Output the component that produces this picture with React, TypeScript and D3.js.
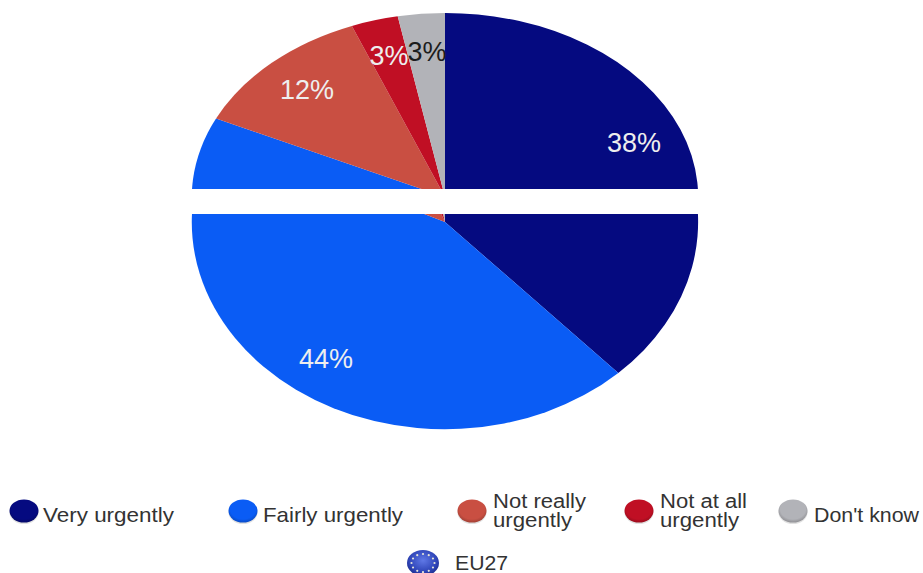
import React from "react";
import * as d3 from "d3";

const categories = ["Very urgently", "Fairly urgently", "Not really urgently", "Not at all urgently", "Don't know"];
const shares = [38, 44, 12, 3, 3];
const sliceColors = ["#050a80", "#0a5cf5", "#c94f42", "#c00f24", "#b2b3b8"];
const labelColors = ["#eeeeee", "#eeeeee", "#eeeeee", "#eeeeee", "#1c1c1c"];
const legendLines = [["Very urgently"], ["Fairly urgently"], ["Not really", "urgently"], ["Not at all", "urgently"], ["Don't know"]];
const regionLabel = "EU27";

const WIDTH = 923;
const HEIGHT = 573;
const CX = 445;
const RX = 253;
// The pie is split by a horizontal band, and the two parts have their own centre and radius.
const UPPER = { cy: 197, ry: 184, clipY: 0, clipH: 189 };
const LOWER = { cy: 222, ry: 207, clipY: 214, clipH: 359 };
const LEGEND_DOT_X = [24, 243, 472, 639, 793];
const LEGEND_TEXT_X = [43, 263, 493, 660, 814];
const LEGEND_TEXT_W = [[131], [140], [93, 79], [87, 79], [105]];
const LABEL_POS: [number, number][] = [[634, 143], [326, 359], [307, 90], [389, 56], [427, 52]];

const pie = d3.pie<number>().sort(null).value((d) => d);
const arc = d3.arc<d3.PieArcDatum<number>>().innerRadius(0).outerRadius(1);

// Twelve stars on a ring for the EU flag marker
const starRing = d3.range(12).map((i) => (i / 12) * 2 * Math.PI);

export default function App() {
  const slices = pie(shares);
  return (
    <svg
      width={WIDTH}
      height={HEIGHT}
      viewBox={`0 0 ${WIDTH} ${HEIGHT}`}
      style={{ position: "absolute", left: 0, top: 0, background: "#fff" }}
      fontFamily="'Liberation Sans', Arial, sans-serif"
    >
      <defs>
        {sliceColors.map((c, i) => (
          <radialGradient key={c} id={`dot${i}`} cx="50%" cy="42%" r="60%">
            <stop offset="0%" stopColor={c} />
            <stop offset="72%" stopColor={c} />
            <stop offset="100%" stopColor={d3.color(c)!.darker(0.7).formatHex()} />
          </radialGradient>
        ))}
        <radialGradient id="flag" cx="50%" cy="40%" r="62%">
          <stop offset="0%" stopColor="#5f78e6" />
          <stop offset="70%" stopColor="#2f45b8" />
          <stop offset="100%" stopColor="#1a2a86" />
        </radialGradient>
        {[UPPER, LOWER].map((p, i) => (
          <clipPath key={i} id={`part${i}`}>
            <rect x={0} y={p.clipY} width={WIDTH} height={p.clipH} />
          </clipPath>
        ))}
      </defs>

      {[UPPER, LOWER].map((p, k) => (
        <g key={k} clipPath={`url(#part${k})`}>
          <g transform={`translate(${CX},${p.cy}) scale(${RX},${p.ry})`}>
            {slices.map((s, i) => (
              <path key={categories[i]} d={arc(s) ?? ""} fill={sliceColors[i]} />
            ))}
          </g>
        </g>
      ))}

      {slices.map((s, i) => (
        <text
          key={categories[i]}
          x={LABEL_POS[i][0]}
          y={LABEL_POS[i][1]}
          textAnchor="middle"
          dominantBaseline="central"
          fontSize={27}
          fill={labelColors[i]}
        >
          {`${s.data}%`}
        </text>
      ))}

      {categories.map((c, i) => (
        <g key={c}>
          <ellipse cx={LEGEND_DOT_X[i]} cy={512.5} rx={14.5} ry={11.5} fill="#000" opacity={0.12} />
          <ellipse cx={LEGEND_DOT_X[i]} cy={511} rx={14.5} ry={11.5} fill={`url(#dot${i})`} />
          {legendLines[i].length === 1 ? (
            <text x={LEGEND_TEXT_X[i]} y={522} fontSize={21} fill="#333" textLength={LEGEND_TEXT_W[i][0]} lengthAdjust="spacingAndGlyphs">
              {legendLines[i][0]}
            </text>
          ) : (
            legendLines[i].map((line, j) => (
              <text key={line} x={LEGEND_TEXT_X[i]} y={508 + j * 19} fontSize={20} fill="#333" textLength={LEGEND_TEXT_W[i][j]} lengthAdjust="spacingAndGlyphs">
                {line}
              </text>
            ))
          )}
        </g>
      ))}

      <g transform="translate(423,563)">
        <ellipse rx={16} ry={13} fill="url(#flag)" />
        {starRing.map((a) => (
          <circle key={a} cx={Math.sin(a) * 11.5} cy={Math.cos(a) * 9} r={1.1} fill="#e6e6d8" />
        ))}
      </g>
      <text x={455} y={570} fontSize={20} fill="#333" textLength={53} lengthAdjust="spacingAndGlyphs">
        {regionLabel}
      </text>
    </svg>
  );
}
